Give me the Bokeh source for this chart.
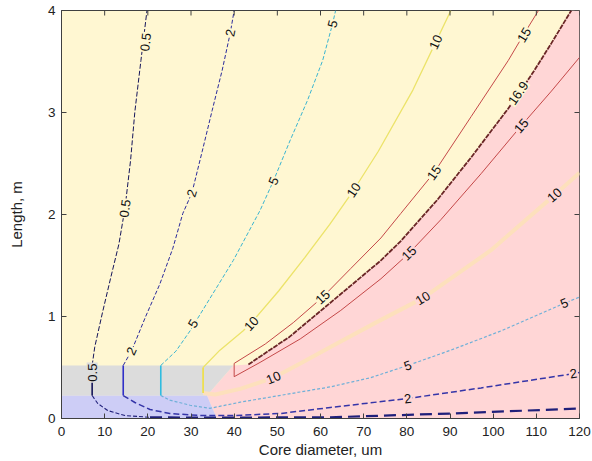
import numpy as np
from bokeh.plotting import figure
from bokeh.models import FixedTicker, ColumnDataSource, Range1d
from bokeh.embed import file_html
from bokeh.resources import INLINE
from bokeh.core.properties import value

# ---------------- data ----------------
x_ticks = [0, 10, 20, 30, 40, 50, 60, 70, 80, 90, 100, 110, 120]
y_ticks = [0, 1, 2, 3, 4]
x_label = "Core diameter, um"
y_label = "Length, m"

# contour 0.5
c05_up_x = [7.1, 7.7, 9.5, 11.4, 13.3, 14.7, 16.0, 17.0, 18.4, 19.8]
c05_up_y = [0.52, 0.70, 1.04, 1.38, 1.71, 2.06, 2.53, 3.01, 3.51, 4.0]
c05_lo_x = [7.1, 8.4, 10.7, 14.7, 20.5, 32.1, 62.3, 90.2, 120.0]
c05_lo_y = [0.225, 0.147, 0.078, 0.029, 0.012, 0.008, 0.012, 0.049, 0.098]
# contour 2
c2_up_x = [14.3, 16.3, 19.5, 22.8, 25.8, 28.1, 30.2, 32.6, 34.9, 37.2, 39.1, 40.0]
c2_up_y = [0.52, 0.67, 1.0, 1.32, 1.67, 2.01, 2.21, 2.62, 3.02, 3.41, 3.78, 4.0]
c2_lo_x = [14.3, 17.0, 20.5, 25.1, 32.1, 39.8, 50.7, 62.3, 80.2, 97.2, 118.6, 120.0]
c2_lo_y = [0.225, 0.157, 0.088, 0.049, 0.029, 0.029, 0.049, 0.108, 0.196, 0.30, 0.44, 0.45]
# contour 5
c5_up_x = [23.0, 26.5, 29.8, 30.8, 33.7, 39.8, 46.0, 49.1, 53.0, 57.0, 60.5, 62.8, 63.5]
c5_up_y = [0.52, 0.66, 0.86, 0.93, 1.13, 1.55, 2.04, 2.33, 2.73, 3.12, 3.51, 3.87, 4.0]
c5_lo_x = [23.0, 25.1, 29.8, 34.4, 41.4, 48.4, 55.3, 62.3, 71.6, 80.2, 90.2, 101.9, 116.5, 120.0]
c5_lo_y = [0.225, 0.18, 0.13, 0.10, 0.16, 0.21, 0.26, 0.31, 0.40, 0.52, 0.67, 0.86, 1.13, 1.19]
# contour 10
c10_up_x = [32.8, 36.7, 42.1, 44.0, 50.3, 56.4, 62.1, 67.7, 73.4, 81.4, 86.7, 90.2]
c10_up_y = [0.50, 0.67, 0.86, 0.94, 1.25, 1.58, 1.90, 2.24, 2.62, 3.22, 3.69, 4.0]
c10_lo_x = [32.8, 35.6, 41.4, 49.1, 55.3, 62.3, 72.8, 83.7, 99.5, 114.2, 120.0]
c10_lo_y = [0.25, 0.235, 0.29, 0.40, 0.54, 0.70, 0.94, 1.18, 1.65, 2.19, 2.41]
# contour 15 (upper and lower branch)
c15_up_x = [40.0, 47.2, 53.7, 60.5, 67.0, 74.0, 78.6, 86.3, 94.9, 103.5, 107.0, 110.5]
c15_up_y = [0.54, 0.73, 0.94, 1.19, 1.47, 1.77, 2.01, 2.41, 2.96, 3.51, 3.76, 4.0]
c15_lo_x = [40.0, 46.0, 55.3, 64.7, 74.0, 80.5, 87.9, 97.2, 106.5, 113.5, 120.0]
c15_lo_y = [0.41, 0.55, 0.78, 1.06, 1.37, 1.62, 1.95, 2.40, 2.87, 3.21, 3.54]
# contour 16.9
c169_x = [43.3, 52.8, 63.0, 74.0, 78.6, 87.0, 94.9, 103.5, 106.5, 109.5, 113.5, 118.1]
c169_y = [0.53, 0.80, 1.16, 1.55, 1.74, 2.14, 2.56, 3.04, 3.22, 3.41, 3.68, 4.0]

# vertical contour segments inside grey band
vseg_x = [7.1, 14.3, 23.0, 32.8]
vseg_y0 = [0.225, 0.225, 0.225, 0.25]
vseg_y1 = [0.52, 0.52, 0.52, 0.50]

# region boundaries
grey_x = [0, 33.7, 39.8, 0]
grey_y = [0.225, 0.225, 0.52, 0.52]
blue_x = [0, 36.0, 33.7, 0]
blue_y = [0, 0, 0.225, 0.225]
pink_tail_x = [120, 120, 36.0, 33.7, 39.8]
pink_tail_y = [4.0, 0, 0, 0.225, 0.52]

# contour labels
lab_up = {  # labels in the yellow region
    "0.5": ([19.5, 14.7], [3.69, 2.06], (c05_up_x, c05_up_y)),
    "2": ([39.1, 30.2, 16.2], [3.78, 2.21, 0.66], (c2_up_x, c2_up_y)),
    "5": ([62.8, 49.1, 30.5], [3.87, 2.33, 0.93], (c5_up_x, c5_up_y)),
    "10": ([86.7, 67.7, 44.0], [3.69, 2.24, 0.93], (c10_up_x, c10_up_y)),
    "15": ([107.2, 86.3, 60.5], [3.76, 2.41, 1.19], (c15_up_x, c15_up_y)),
    "16.9": ([105.8], [3.19], (c169_x, c169_y)),
}
lab_lo = {  # labels in the pink region
    "15": ([80.5, 106.5], [1.62, 2.87], (c15_lo_x, c15_lo_y)),
    "10": ([49.1, 83.7, 114.2], [0.40, 1.18, 2.19], (c10_lo_x, c10_lo_y)),
    "5": ([80.2, 116.5], [0.52, 1.13], (c5_lo_x, c5_lo_y)),
    "2": ([80.2, 118.6], [0.196, 0.44], (c2_lo_x, c2_lo_y)),
}
lab_grey = {"0.5": ([7.1], [0.45], ([7.1, 7.1], [0.225, 0.52]))}

# ---------------- styling ----------------
W, H = 592, 461
L, R, T, B = 61, 579, 10, 418
SX = (R - L) / 120.0
SY = (B - T) / 4.0
TICK = 5

YELLOW = "#fff7d2"
PINK = "#ffd6d6"
GREY = "#dcdcdc"
BLUE = "#cdcdf6"
AXC = "#404040"
FONT = "Liberation Sans"

p = figure(width=W, height=H, output_backend="svg", toolbar_location=None,
           x_range=Range1d(0, 120), y_range=Range1d(0, 4),
           min_border_left=L, min_border_right=W - R,
           min_border_top=T, min_border_bottom=H - B)
p.background_fill_color = YELLOW
p.border_fill_color = "white"
p.outline_line_color = AXC
p.grid.visible = False

# regions
p.patch(c169_x + pink_tail_x, c169_y + pink_tail_y, fill_color=PINK, line_color=None)
p.patch(grey_x, grey_y, fill_color=GREY, line_color=None)
p.patch(blue_x, blue_y, fill_color=BLUE, line_color=None)

# contour lines
p.line(c05_up_x, c05_up_y, line_color="#15155a", line_width=1, line_dash="5 2")
p.line(c2_up_x, c2_up_y, line_color="#2b2b9b", line_width=1, line_dash="4 2")
p.line(c5_up_x, c5_up_y, line_color="#3ab4d0", line_width=1, line_dash="4 2")
p.line(c10_up_x, c10_up_y, line_color="#ece36a", line_width=1.3)
p.line(c15_lo_x[::-1] + c15_up_x, c15_lo_y[::-1] + c15_up_y, line_color="#c44848", line_width=1)
p.line(c10_lo_x, c10_lo_y, line_color="#fde0bc", line_width=4)
p.line(c5_lo_x, c5_lo_y, line_color="#6fb0d8", line_width=1.2, line_dash="3 2")
p.line(c2_lo_x, c2_lo_y, line_color="#3535a8", line_width=1.5, line_dash="6 3")
p.line(c05_lo_x[:5], c05_lo_y[:5], line_color="#20207a", line_width=1.1, line_dash="4 2")
p.line(c05_lo_x[4:], c05_lo_y[4:], line_color="#20207a", line_width=2.2, line_dash="12 6")
p.line(c169_x, c169_y, line_color="#6a2626", line_width=1.8, line_dash="5 1")
p.segment(x0=vseg_x, y0=vseg_y0, x1=vseg_x, y1=vseg_y1,
          line_color=["#15155a", "#3030c8", "#30bce0", "#f0e040"], line_width=1.6)

# inward ticks on the top and right edges (box style)
p.segment(x0=x_ticks, y0=[4.0] * len(x_ticks), x1=x_ticks,
          y1=[4.0 - TICK / SY] * len(x_ticks), line_color=AXC, line_width=1)
p.segment(x0=[120.0] * len(y_ticks), y0=y_ticks, x1=[120.0 - TICK / SX] * len(y_ticks),
          y1=y_ticks, line_color=AXC, line_width=1)


def label_source(groups):
    xs, ys, ts, angs = [], [], [], []
    for txt, (lx, ly, (cx, cy)) in groups.items():
        px = np.asarray(cx) * SX
        py = np.asarray(cy) * SY
        for x, y in zip(lx, ly):
            d = (px - x * SX) ** 2 + (py - y * SY) ** 2
            i = int(np.argmin(d))
            i0, i1 = max(i - 1, 0), min(i + 1, len(px) - 1)
            a = float(np.arctan2(py[i1] - py[i0], px[i1] - px[i0]))
            if a > np.pi / 2:
                a -= np.pi
            if a <= -np.pi / 2:
                a += np.pi
            xs.append(x); ys.append(y); ts.append(txt); angs.append(a)
    return ColumnDataSource(dict(x=xs, y=ys, text=ts, angle=angs))


for groups, bg in ((lab_up, YELLOW), (lab_lo, PINK), (lab_grey, GREY)):
    p.text(x="x", y="y", text="text", angle="angle", source=label_source(groups),
           text_font=value(FONT), text_font_size="13px", text_color="#111111",
           text_align="center", text_baseline="middle",
           background_fill_color=bg, padding=1)

# axes
for ax in (p.xaxis[0], p.yaxis[0]):
    ax.major_tick_in = TICK
    ax.major_tick_out = 0
    ax.minor_tick_line_color = None
    ax.axis_line_color = AXC
    ax.major_tick_line_color = AXC
    ax.major_label_text_font = FONT
    ax.major_label_text_font_size = "13.5px"
    ax.major_label_text_color = "#222222"
    ax.axis_label_text_font = FONT
    ax.axis_label_text_font_size = "15px"
    ax.axis_label_text_font_style = "normal"
    ax.axis_label_text_color = "#222222"

p.xaxis[0].ticker = FixedTicker(ticks=x_ticks)
p.yaxis[0].ticker = FixedTicker(ticks=y_ticks)
p.xaxis[0].axis_label = x_label
p.yaxis[0].axis_label = y_label
p.xaxis[0].major_label_standoff = 8
p.xaxis[0].axis_label_standoff = 2
p.yaxis[0].major_label_standoff = 6
p.yaxis[0].axis_label_standoff = 20

open("out.html", "w").write(file_html(p, INLINE))
